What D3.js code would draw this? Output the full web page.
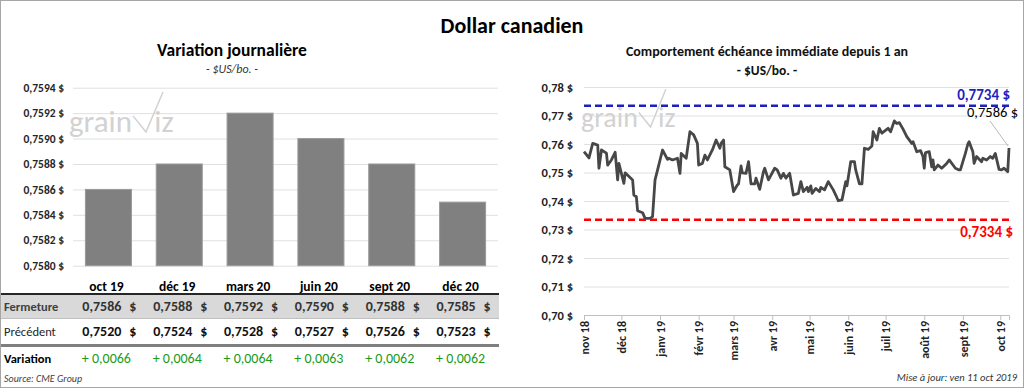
<!DOCTYPE html>
<html>
<head>
<meta charset="utf-8">
<script src="https://cdn.jsdelivr.net/npm/d3@7"></script>
<style>
  body { margin: 0; background: #fff; }
  svg text { font-family: Carlito, Lato, sans-serif; }
</style>
</head>
<body>
<div id="chart"></div>
<script>
var svgWidth = 1024;
var svgHeight = 388;

// ---- data ----
var contracts = ["oct 19", "déc 19", "mars 20", "juin 20", "sept 20", "déc 20"];
var closeVals = [0.7586, 0.7588, 0.7592, 0.7590, 0.7588, 0.7585];
var prevVals = [0.7520, 0.7524, 0.7528, 0.7527, 0.7526, 0.7523];
var changeVals = [0.0066, 0.0064, 0.0064, 0.0063, 0.0062, 0.0062];
var barTicks = [0.7580, 0.7582, 0.7584, 0.7586, 0.7588, 0.7590, 0.7592, 0.7594];

var monthLabels = ["nov 18", "déc 18", "janv 19", "févr 19", "mars 19", "avr 19",
    "mai 19", "juin 19", "juil 19", "août 19", "sept 19", "oct 19"];
var lineTicks = [0.70, 0.71, 0.72, 0.73, 0.74, 0.75, 0.76, 0.77, 0.78];
var yearHigh = 0.7734;
var yearLow = 0.7334;
var lastClose = 0.7586;

var usdcad = [
    ["2018-11-01", 0.7573], ["2018-11-05", 0.7551], ["2018-11-08", 0.7602], ["2018-11-12", 0.7596],
    ["2018-11-13", 0.7515], ["2018-11-15", 0.7579], ["2018-11-19", 0.7568], ["2018-11-20", 0.7526],
    ["2018-11-23", 0.7544], ["2018-11-26", 0.7571], ["2018-11-28", 0.7474], ["2018-11-29", 0.7532],
    ["2018-12-03", 0.7462], ["2018-12-04", 0.7499], ["2018-12-10", 0.7474], ["2018-12-11", 0.7421],
    ["2018-12-13", 0.7415], ["2018-12-14", 0.7366], ["2018-12-18", 0.7359], ["2018-12-20", 0.7339],
    ["2018-12-24", 0.7339], ["2018-12-26", 0.7345], ["2018-12-28", 0.7474], ["2018-12-31", 0.7526],
    ["2019-01-03", 0.7579], ["2019-01-07", 0.7546], ["2019-01-08", 0.7550], ["2019-01-11", 0.7544],
    ["2019-01-15", 0.7550], ["2019-01-17", 0.7497], ["2019-01-18", 0.7567], ["2019-01-22", 0.7550],
    ["2019-01-25", 0.7643], ["2019-01-28", 0.7632], ["2019-01-31", 0.7602], ["2019-02-01", 0.7526],
    ["2019-02-04", 0.7532], ["2019-02-06", 0.7561], ["2019-02-08", 0.7544], ["2019-02-12", 0.7579],
    ["2019-02-15", 0.7614], ["2019-02-18", 0.7585], ["2019-02-19", 0.7602], ["2019-02-21", 0.7614],
    ["2019-02-22", 0.7520], ["2019-02-26", 0.7509], ["2019-03-01", 0.7433], ["2019-03-04", 0.7456],
    ["2019-03-05", 0.7460], ["2019-03-07", 0.7523], ["2019-03-08", 0.7499], ["2019-03-11", 0.7497],
    ["2019-03-13", 0.7538], ["2019-03-15", 0.7460], ["2019-03-18", 0.7460], ["2019-03-19", 0.7480],
    ["2019-03-22", 0.7441], ["2019-03-25", 0.7503], ["2019-03-26", 0.7515], ["2019-03-29", 0.7474],
    ["2019-04-03", 0.7515], ["2019-04-05", 0.7509], ["2019-04-08", 0.7480], ["2019-04-10", 0.7497],
    ["2019-04-12", 0.7480], ["2019-04-15", 0.7497], ["2019-04-18", 0.7421], ["2019-04-22", 0.7427],
    ["2019-04-24", 0.7468], ["2019-04-26", 0.7433], ["2019-04-29", 0.7448], ["2019-04-30", 0.7433],
    ["2019-05-02", 0.7453], ["2019-05-03", 0.7427], ["2019-05-06", 0.7444], ["2019-05-09", 0.7433],
    ["2019-05-10", 0.7448], ["2019-05-13", 0.7439], ["2019-05-16", 0.7468], ["2019-05-20", 0.7439],
    ["2019-05-22", 0.7421], ["2019-05-24", 0.7401], ["2019-05-27", 0.7404], ["2019-05-30", 0.7468],
    ["2019-05-31", 0.7453], ["2019-06-03", 0.7538], ["2019-06-06", 0.7538], ["2019-06-07", 0.7509],
    ["2019-06-10", 0.7460], ["2019-06-12", 0.7460], ["2019-06-14", 0.7585], ["2019-06-17", 0.7581],
    ["2019-06-20", 0.7593], ["2019-06-21", 0.7643], ["2019-06-24", 0.7614], ["2019-06-26", 0.7655],
    ["2019-06-28", 0.7638], ["2019-07-03", 0.7655], ["2019-07-05", 0.7643], ["2019-07-08", 0.7681],
    ["2019-07-10", 0.7672], ["2019-07-12", 0.7675], ["2019-07-15", 0.7652], ["2019-07-18", 0.7626],
    ["2019-07-22", 0.7602], ["2019-07-23", 0.7608], ["2019-07-26", 0.7573], ["2019-07-29", 0.7577],
    ["2019-07-31", 0.7556], ["2019-08-01", 0.7515], ["2019-08-02", 0.7570], ["2019-08-05", 0.7573],
    ["2019-08-07", 0.7520], ["2019-08-08", 0.7544], ["2019-08-09", 0.7509], ["2019-08-12", 0.7526],
    ["2019-08-15", 0.7515], ["2019-08-19", 0.7532], ["2019-08-21", 0.7544], ["2019-08-26", 0.7515],
    ["2019-08-29", 0.7509], ["2019-08-30", 0.7509], ["2019-09-03", 0.7567], ["2019-09-05", 0.7600],
    ["2019-09-06", 0.7608], ["2019-09-09", 0.7573], ["2019-09-10", 0.7532], ["2019-09-12", 0.7556],
    ["2019-09-16", 0.7538], ["2019-09-17", 0.7550], ["2019-09-20", 0.7544], ["2019-09-23", 0.7556],
    ["2019-09-25", 0.7550], ["2019-09-27", 0.7567], ["2019-09-30", 0.7511], ["2019-10-02", 0.7509],
    ["2019-10-04", 0.7515], ["2019-10-07", 0.7503], ["2019-10-08", 0.7586]
];

// ---- helpers ----
var comma = function (v, p) { return d3.format("." + p + "f")(v).replace(".", ","); };
var parseDate = d3.timeParse("%Y-%m-%d");
var gridColor = "#e0e0e0";

var svg = d3.select("#chart")
    .append("svg")
    .attr("width", svgWidth)
    .attr("height", svgHeight);

svg.append("rect")
    .attr("x", 0.5).attr("y", 0.5)
    .attr("width", svgWidth - 1).attr("height", svgHeight - 1)
    .attr("fill", "#fff").attr("stroke", "#a6a6a6");

svg.append("text")
    .attr("x", 512).attr("y", 33)
    .attr("text-anchor", "middle")
    .attr("font-size", 22).attr("font-weight", "bold")
    .text("Dollar canadien");

function watermark(g, x, y, size, vTop) {
    var w = g.append("g").attr("transform", `translate(${x}, ${y})`).attr("fill", "#d2d2d2");
    var t = w.append("text").attr("font-size", size).text("grain");
    var gw = t.node().getComputedTextLength();
    w.append("path")
        .attr("d", `M${gw + 1},${-size * 0.52} L${gw + size * 0.45},0 L${gw + size * 1.0},${-vTop}`)
        .attr("fill", "none").attr("stroke", "#d2d2d2").attr("stroke-width", 1.5);
    w.append("text").attr("x", gw + size * 0.72).attr("font-size", size).text("iz");
}

/********************************************************/
// left: daily variation bars

var barX = d3.scaleBand()
    .domain(contracts)
    .range([73, 498])
    .paddingInner(0.35)
    .paddingOuter(0.175);

var barY = d3.scaleLinear()
    .domain([0.7580, 0.7594])
    .range([265.7, 87.7]);

svg.append("text")
    .attr("x", 232).attr("y", 56)
    .attr("text-anchor", "middle")
    .attr("font-size", 17.5).attr("font-weight", "bold")
    .text("Variation journalière");

svg.append("text")
    .attr("x", 232).attr("y", 73)
    .attr("text-anchor", "middle")
    .attr("font-size", 12).attr("font-style", "italic").attr("fill", "#333")
    .text("- $US/bo. -");

var leftAxis = d3.axisLeft(barY)
    .tickValues(barTicks)
    .tickSize(-(498 - 73))
    .tickPadding(9)
    .tickFormat(d => comma(d, 4) + " $");

svg.append("g")
    .attr("transform", "translate(73, 0)")
    .call(leftAxis)
    .call(g => g.select(".domain").remove())
    .call(g => g.selectAll(".tick line").attr("stroke", gridColor))
    .call(g => g.selectAll(".tick text")
        .attr("font-size", 11.5).attr("font-weight", "bold").attr("fill", "#262626"));

watermark(svg, 69, 132, 31, 40);

svg.selectAll(".bar")
    .data(closeVals)
    .enter()
    .append("rect")
    .attr("class", "bar")
    .attr("x", (d, i) => barX(contracts[i]))
    .attr("width", barX.bandwidth())
    .attr("y", d => barY(d))
    .attr("height", d => barY(0.7580) - barY(d))
    .attr("fill", "#808080")
    .attr("stroke", "#9a9a9a")
    .attr("stroke-width", 1);

// table under the bars
var colCenter = c => barX(c) + barX.bandwidth() / 2;

svg.selectAll(".cat")
    .data(contracts)
    .enter()
    .append("text")
    .attr("x", d => colCenter(d) - 2)
    .attr("y", 291)
    .attr("text-anchor", "middle")
    .attr("font-size", 13.5).attr("font-weight", "bold")
    .text(d => d);

svg.append("rect")
    .attr("x", 1).attr("y", 294).attr("width", 498).attr("height", 24)
    .attr("fill", "#d9d9d9");
svg.append("line")
    .attr("x1", 1).attr("x2", 499).attr("y1", 294).attr("y2", 294)
    .attr("stroke", "#262626").attr("stroke-width", 2);
svg.append("line")
    .attr("x1", 1).attr("x2", 499).attr("y1", 318.5).attr("y2", 318.5)
    .attr("stroke", "#bfbfbf").attr("stroke-width", 1);
svg.append("line")
    .attr("x1", 1).attr("x2", 499).attr("y1", 345.5).attr("y2", 345.5)
    .attr("stroke", "#7f7f7f").attr("stroke-width", 3);

var rowLabels = [
    { text: "Fermeture", y: 311, weight: "bold", fill: "#404040" },
    { text: "Précédent", y: 336, weight: "normal", fill: "#262626" },
    { text: "Variation", y: 363, weight: "bold", fill: "#000" }
];

svg.selectAll(".rowlab")
    .data(rowLabels)
    .enter()
    .append("text")
    .attr("x", 4).attr("y", d => d.y)
    .attr("font-size", 12.5).attr("font-weight", d => d.weight).attr("fill", d => d.fill)
    .text(d => d.text);

function priceRow(vals, y, fill) {
    var g = svg.append("g");
    g.selectAll("text.num")
        .data(vals)
        .enter()
        .append("text")
        .attr("class", "num")
        .attr("x", (d, i) => colCenter(contracts[i]) + 13)
        .attr("y", y)
        .attr("text-anchor", "end")
        .attr("font-size", 14).attr("font-weight", "bold").attr("fill", fill)
        .text(d => comma(d, 4));
    g.selectAll("text.cur")
        .data(vals)
        .enter()
        .append("text")
        .attr("class", "cur")
        .attr("x", (d, i) => colCenter(contracts[i]) + 28)
        .attr("y", y)
        .attr("text-anchor", "end")
        .attr("font-size", 14).attr("font-weight", "bold").attr("fill", fill)
        .text("$");
}
priceRow(closeVals, 311, "#333");
priceRow(prevVals, 336, "#111");

svg.selectAll(".chg")
    .data(changeVals)
    .enter()
    .append("text")
    .attr("x", (d, i) => colCenter(contracts[i]) - 2)
    .attr("y", 363)
    .attr("text-anchor", "middle")
    .attr("font-size", 14).attr("fill", "#1a9a1a")
    .text(d => "+ " + comma(d, 4));

svg.append("text")
    .attr("x", 4).attr("y", 382)
    .attr("font-size", 10).attr("font-style", "italic").attr("fill", "#404040")
    .text("Source: CME Group");

/********************************************************/
// right: front month over one year

var lineData = usdcad.map(d => ({ date: parseDate(d[0]), value: d[1] }));

var lineX = d3.scaleTime()
    .domain([parseDate("2018-11-01"), parseDate("2019-10-08")])
    .range([584, 1009]);

var lineY = d3.scaleLinear()
    .domain([0.70, 0.78])
    .range([315, 87]);

svg.append("text")
    .attr("x", 767).attr("y", 56)
    .attr("text-anchor", "middle")
    .attr("font-size", 14).attr("font-weight", "bold").attr("fill", "#111")
    .text("Comportement échéance immédiate depuis 1 an");

svg.append("text")
    .attr("x", 767).attr("y", 75)
    .attr("text-anchor", "middle")
    .attr("font-size", 13.5).attr("font-weight", "bold").attr("fill", "#111")
    .text("- $US/bo. -");

var rightAxis = d3.axisLeft(lineY)
    .tickValues(lineTicks)
    .tickSize(-(1009 - 584))
    .tickPadding(11)
    .tickFormat(d => comma(d, 2) + " $");

svg.append("g")
    .attr("transform", "translate(584, 0)")
    .call(rightAxis)
    .call(g => g.select(".domain").remove())
    .call(g => g.selectAll(".tick line").attr("stroke", gridColor))
    .call(g => g.selectAll(".tick text")
        .attr("font-size", 12.5).attr("font-weight", "bold").attr("fill", "#222"));

var monthTicks = d3.range(12).map(i => new Date(2018, 10 + i, 1));
var bottomAxis = d3.axisBottom(lineX)
    .tickValues(monthTicks)
    .tickSize(5)
    .tickFormat((d, i) => monthLabels[i]);

svg.append("g")
    .attr("transform", "translate(0, 315)")
    .call(bottomAxis)
    .call(g => g.select(".domain").attr("stroke", "#bfbfbf"))
    .call(g => g.selectAll(".tick line").attr("stroke", "#bfbfbf"))
    .call(g => g.selectAll(".tick text")
        .attr("font-size", 12).attr("font-weight", "bold").attr("fill", "#222")
        .attr("text-anchor", "end")
        .attr("transform", "rotate(-90)")
        .attr("x", -6).attr("y", 0).attr("dy", "0.35em"));

watermark(svg, 581, 127, 28, 38);

svg.append("line")
    .attr("x1", 584).attr("x2", 1009)
    .attr("y1", lineY(yearHigh)).attr("y2", lineY(yearHigh))
    .attr("stroke", "#1f1fc0").attr("stroke-width", 2.5).attr("stroke-dasharray", "7,4");

svg.append("line")
    .attr("x1", 584).attr("x2", 1009)
    .attr("y1", lineY(yearLow)).attr("y2", lineY(yearLow))
    .attr("stroke", "#ff0000").attr("stroke-width", 2.5).attr("stroke-dasharray", "7,4");

svg.append("path")
    .datum(lineData)
    .attr("fill", "none")
    .attr("stroke", "#474747")
    .attr("stroke-width", 2.8)
    .attr("stroke-linejoin", "round")
    .attr("d", d3.line().x(d => lineX(d.date)).y(d => lineY(d.value)));

svg.append("text")
    .attr("x", 1010).attr("y", lineY(yearHigh) - 6)
    .attr("text-anchor", "end")
    .attr("font-size", 15).attr("font-weight", "bold").attr("fill", "#1f1fc0")
    .text(comma(yearHigh, 4) + " $");

svg.append("text")
    .attr("x", 1013).attr("y", lineY(yearLow) + 17)
    .attr("text-anchor", "end")
    .attr("font-size", 15).attr("font-weight", "bold").attr("fill", "#ff0000")
    .text(comma(yearLow, 4) + " $");

var last = lineData[lineData.length - 1];
svg.append("line")
    .attr("x1", 990).attr("y1", 121)
    .attr("x2", lineX(last.date) - 1).attr("y2", lineY(lastClose) - 2)
    .attr("stroke", "#a6a6a6").attr("stroke-width", 0.8);

svg.append("text")
    .attr("x", 1018).attr("y", 117)
    .attr("text-anchor", "end")
    .attr("font-size", 14.5).attr("fill", "#000")
    .text(comma(lastClose, 4) + " $");

svg.append("text")
    .attr("x", 1017).attr("y", 381)
    .attr("text-anchor", "end")
    .attr("font-size", 10.5).attr("font-style", "italic").attr("fill", "#333")
    .text("Mise à jour: ven 11 oct 2019");
</script>
</body>
</html>
